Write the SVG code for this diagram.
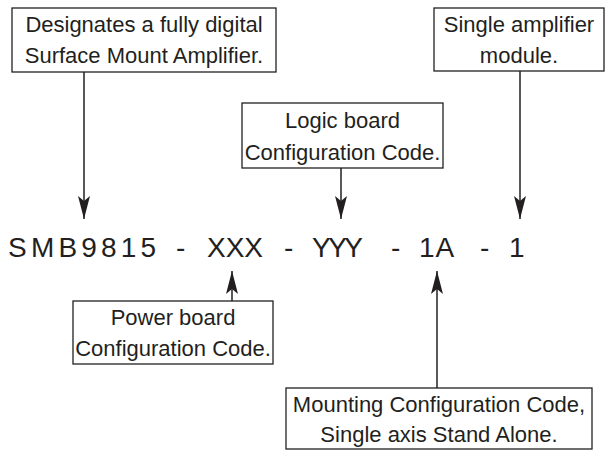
<svg xmlns="http://www.w3.org/2000/svg" width="607" height="452" viewBox="0 0 607 452">
<style>
.box rect{fill:#fff;stroke:#231f20;stroke-width:1.3}
.box text{font-family:"Liberation Sans",Arial,sans-serif;font-size:22px;fill:#231f20;text-anchor:middle}
.code{font-family:"Liberation Sans",Arial,sans-serif;font-size:28px;fill:#231f20}
#connectors line{stroke:#231f20;stroke-width:1.5;fill:none}
</style>
<defs>
<marker id="ah" markerWidth="24" markerHeight="14" refX="23" refY="7" orient="auto" markerUnits="userSpaceOnUse" viewBox="0 0 24 14">
<path d="M0,1 L23,7 L0,13 L5,7 Z" fill="#231f20"/>
</marker>
</defs>
<rect width="607" height="452" fill="#fff"/>
<g id="connectors">
<line x1="84" y1="72" x2="84" y2="219" marker-end="url(#ah)"/>
<line x1="341" y1="168" x2="341" y2="219" marker-end="url(#ah)"/>
<line x1="520" y1="71" x2="520" y2="219" marker-end="url(#ah)"/>
<line x1="232" y1="301" x2="232" y2="271" marker-end="url(#ah)"/>
<line x1="437" y1="388" x2="437" y2="271" marker-end="url(#ah)"/>
</g>
<g id="n-surface" class="box">
<rect x="12" y="8" width="264" height="64"/>
<text x="144" y="32">Designates a fully digital</text>
<text x="144" y="63">Surface Mount Amplifier.</text>
</g>
<g id="n-single" class="box">
<rect x="434" y="8" width="170" height="63"/>
<text x="519" y="32">Single amplifier</text>
<text x="519" y="63">module.</text>
</g>
<g id="n-logic" class="box">
<rect x="242" y="103" width="201" height="65"/>
<text x="342.5" y="128">Logic board</text>
<text x="342.5" y="160">Configuration Code.</text>
</g>
<g id="n-power" class="box">
<rect x="73" y="301" width="200" height="63"/>
<text x="173" y="325">Power board</text>
<text x="173" y="356">Configuration Code.</text>
</g>
<g id="n-mounting" class="box">
<rect x="286" y="388" width="306" height="61"/>
<text x="439" y="412">Mounting Configuration Code,</text>
<text x="439" y="442">Single axis Stand Alone.</text>
</g>
<g id="n-code">
<text class="code" y="257"><tspan x="8" letter-spacing="4.2">SMB9815</tspan><tspan x="176">-</tspan><tspan x="207" letter-spacing="0">XXX</tspan><tspan x="284">-</tspan><tspan x="312" letter-spacing="-2.5">YYY</tspan><tspan x="391">-</tspan><tspan x="419" letter-spacing="1">1A</tspan><tspan x="480">-</tspan><tspan x="509">1</tspan></text>
</g>
</svg>
